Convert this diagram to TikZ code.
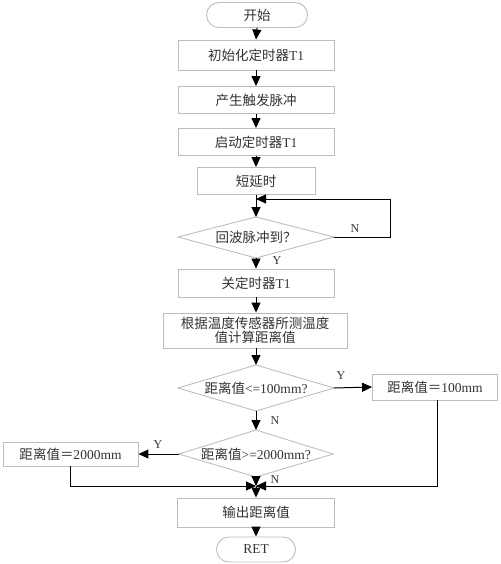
\documentclass[tikz,border=0pt]{standalone}
\usepackage{fontspec}
\setmainfont{Liberation Serif}
\newfontfamily\cjk{Noto Sans CJK SC}
\usetikzlibrary{arrows.meta}
\definecolor{boxline}{HTML}{BDBDBD}
\definecolor{txt}{HTML}{333333}
\tikzset{
  stepbox/.style={draw=boxline, line width=0.9pt, fill=white, minimum height=#1, inner sep=0pt, text=txt, font=\fontsize{13.5}{16}\selectfont, align=center},
  stepbox/.default=27pt,
  termbox/.style={draw=boxline, line width=0.9pt, rounded corners=12.5pt, minimum width=#1, minimum height=25pt, inner sep=0pt, text=txt, font=\fontsize{13.5}{16}\selectfont},
  decbox/.style={draw=boxline, line width=0.9pt, text=txt, inner sep=0pt},
  conn/.style={draw=black, line width=1pt},
  arr/.style={conn, -{Triangle[length=10pt,width=9pt]}},
  lbl/.style={text=txt, font=\fontsize{12}{14}\selectfont, inner sep=0pt},
  dtext/.style={text=txt, font=\fontsize{13.5}{16}\selectfont, inner sep=0pt}
}
\begin{document}
\begin{tikzpicture}[x=1pt,y=-1pt]
\useasboundingbox (0,0) rectangle (500,564);
% nodes
\node[termbox=101pt] (start) at (257,15) {\cjk 开始};
\node[stepbox=30pt, minimum width=156pt] (b1) at (256,55) {{\cjk 初始化定时器}T1};
\node[stepbox, minimum width=156pt] (b2) at (256,100) {\cjk 产生触发脉冲};
\node[stepbox, minimum width=156pt] (b3) at (256,142) {{\cjk 启动定时器}T1};
\node[stepbox, minimum width=118pt] (b4) at (256,181) {\cjk 短延时};
\coordinate (d1n) at (256,217); \coordinate (d1e) at (334,237); \coordinate (d1s) at (256,258); \coordinate (d1w) at (178,237);
\draw[decbox] (d1w) -- (d1n) -- (d1e) -- (d1s) -- cycle;
\node[dtext] (d1) at (256,237) {{\cjk 回波脉冲到？}};
\node[stepbox=28pt, minimum width=156pt] (b5) at (256,283) {{\cjk 关定时器}T1};
\node[stepbox=35pt, minimum width=184pt, font=\fontsize{13.5}{15}\selectfont] (b6) at (255,330.5) {{\cjk 根据温度传感器所测温度}\\[-1pt]{\cjk 值计算距离值}};
\coordinate (d2n) at (256,365); \coordinate (d2e) at (334,388); \coordinate (d2s) at (256,411); \coordinate (d2w) at (178,388);
\draw[decbox] (d2w) -- (d2n) -- (d2e) -- (d2s) -- cycle;
\node[dtext] (d2) at (256,388) {{\cjk 距离值}<=100mm?};
\node[stepbox=26pt, minimum width=125pt] (b7) at (435,387) {{\cjk 距离值＝}100mm};
\coordinate (d3n) at (256,430); \coordinate (d3e) at (333,454); \coordinate (d3s) at (256,477); \coordinate (d3w) at (179,454);
\draw[decbox] (d3w) -- (d3n) -- (d3e) -- (d3s) -- cycle;
\node[dtext] (d3) at (256,454) {{\cjk 距离值}>=2000mm?};
\node[stepbox=24pt, minimum width=135pt] (b8) at (70.5,454) {{\cjk 距离值＝}2000mm};
\node[stepbox=29pt, minimum width=157pt] (b9) at (256,512.5) {\cjk 输出距离值};
\node[termbox=79pt] (end) at (256,549.5) {RET};
% helper coordinates
\coordinate (loopR) at (390,237);
\coordinate (loopT) at (390,199);
\coordinate (loopJ) at (256,199);
\coordinate (m) at (256,486);
\coordinate (b7d) at (437,486);
\coordinate (b8d) at (70,486);
% connectors
\draw[arr] (start.south) -- (b1.north);
\draw[arr] (b1.south) -- (b2.north);
\draw[arr] (b2.south) -- (b3.north);
\draw[arr] (b3.south) -- (b4.north);
\draw[arr] (b4.south) -- (d1n);
\draw[arr] (d1e) -- (loopR) -- (loopT) -- (loopJ);
\node[lbl] (lN1) at (355,229) {N};
\draw[arr] (d1s) -- (b5.north);
\node[lbl] (lY1) at (277,261) {Y};
\draw[arr] (b5.south) -- (b6.north -| b5.south);
\draw[arr] (b6.south -| d2n) -- (d2n);
\draw[arr] (d2e) -- (b7.west);
\node[lbl] (lY2) at (341,376) {Y};
\draw[arr] (d2s) -- (d3n);
\node[lbl] (lN2) at (275,421) {N};
\draw[arr] (d3w) -- (b8.east);
\node[lbl] (lY3) at (158,445) {Y};
\draw[arr] (b7.south -| b7d) -- (b7d) -- (m);
\draw[arr] (b8.south -| b8d) -- (b8d) -- (m);
\draw[arr] (d3s) -- (m);
\node[lbl] (lN3) at (275,480) {N};
\draw[arr] (m) -- (b9.north);
\draw[arr] (b9.south) -- (end.north);
\end{tikzpicture}
\end{document}
